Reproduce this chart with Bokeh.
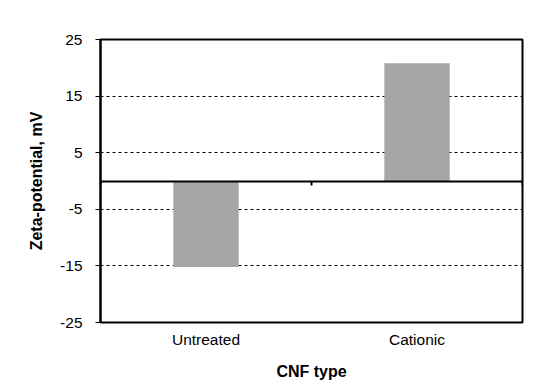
from bokeh.plotting import figure
from bokeh.models import (LinearAxis, FixedTicker, Range1d, ColumnDataSource)
from bokeh.embed import file_html
from bokeh.resources import INLINE

categories = ["Untreated", "Cationic"]
zeta = [-15.2, 20.8]
y_ticks = [-25, -15, -5, 5, 15, 25]
y_tick_labels = ["-25", "-15", "-5", "5", "15", "25"]

FONT = "Liberation Sans"

x_pos = [i + 0.5 for i in range(len(categories))]
src = ColumnDataSource(dict(x=x_pos, top=zeta, cat=categories))

p = figure(width=541, height=391, output_backend="svg", toolbar_location=None,
           x_range=Range1d(0, len(categories)), y_range=Range1d(-25, 25),
           min_border_left=100, min_border_right=19, min_border_top=39,
           min_border_bottom=69, x_axis_location=None, y_axis_location=None)

p.outline_line_color = "black"
p.outline_line_width = 2
p.background_fill_color = "white"
p.border_fill_color = "white"

p.vbar(x="x", top="top", bottom=0, width=0.31, source=src,
       fill_color="#A6A6A6", line_color=None)

# y axis
yax = LinearAxis(ticker=FixedTicker(ticks=y_ticks), axis_label="Zeta-potential, mV",
                 major_label_overrides={t: s for t, s in zip(y_ticks, y_tick_labels)})
yax.axis_line_color = "black"
yax.axis_line_width = 2
yax.major_tick_out = 5
yax.major_tick_in = 0
yax.major_tick_line_width = 1
yax.minor_tick_line_color = None
yax.major_label_text_font = FONT
yax.major_label_text_font_size = "15.5px"
yax.major_label_text_color = "black"
yax.major_label_standoff = 13
yax.axis_label_text_font = FONT
yax.axis_label_text_font_size = "16px"
yax.axis_label_text_font_style = "bold"
yax.axis_label_text_color = "black"
yax.axis_label_standoff = 12
p.add_layout(yax, "left")

# x axis (labels at bottom)
xax = LinearAxis(ticker=FixedTicker(ticks=x_pos), axis_label="CNF type",
                 major_label_overrides={x: c for x, c in zip(x_pos, categories)})
xax.axis_line_color = None
xax.major_tick_line_color = None
xax.minor_tick_line_color = None
xax.major_label_text_font = FONT
xax.major_label_text_font_size = "15.5px"
xax.major_label_text_color = "black"
xax.major_label_standoff = 2
xax.axis_label_text_font = FONT
xax.axis_label_text_font_size = "16px"
xax.axis_label_text_font_style = "bold"
xax.axis_label_text_color = "black"
xax.axis_label_standoff = 12
p.add_layout(xax, "below")

# zero axis line with category dividers
zax = LinearAxis(ticker=FixedTicker(ticks=list(range(len(categories) + 1))), fixed_location=0)
zax.axis_line_color = "black"
zax.axis_line_width = 2
zax.major_tick_out = 4
zax.major_tick_in = 0
zax.major_tick_line_width = 2
zax.minor_tick_line_color = None
zax.major_label_text_alpha = 0
zax.major_label_text_font_size = "1px"
p.add_layout(zax, "below")

p.xgrid.visible = False
p.ygrid.ticker = FixedTicker(ticks=y_ticks)
p.ygrid.grid_line_color = "black"
p.ygrid.grid_line_dash = "3 3"
p.ygrid.grid_line_width = 1

open("out.html", "w").write(file_html(p, INLINE))
